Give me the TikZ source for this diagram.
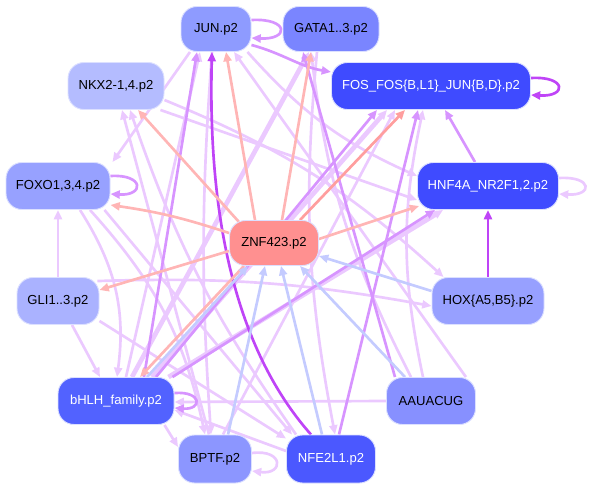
\documentclass[tikz,border=0pt]{standalone}
\usepackage{fontspec}
\setmainfont{Liberation Sans}
\usetikzlibrary{arrows.meta,calc}
\pgfdeclarelayer{bg}
\pgfsetlayers{bg,main}
\definecolor{ltc}{HTML}{EBC9FF}
\definecolor{mdc}{HTML}{D794FF}
\definecolor{stc}{HTML}{BF44F7}
\definecolor{pkc}{HTML}{FFB5B5}
\definecolor{pkd}{HTML}{FF9E9E}
\definecolor{blc}{HTML}{C4CBFF}
\definecolor{bord}{HTML}{DCE0FF}
\definecolor{cJUN}{HTML}{8E9BFF}
\definecolor{cGATA}{HTML}{7A85FF}
\definecolor{cFOS}{HTML}{3F4BFF}
\definecolor{cNKX}{HTML}{B4BCFF}
\definecolor{cFOXO}{HTML}{97A1FF}
\definecolor{cZNF}{HTML}{FF9090}
\definecolor{cGLI}{HTML}{AAB2FF}
\definecolor{cHOX}{HTML}{97A0FF}
\definecolor{cBHLH}{HTML}{5262FF}
\definecolor{cAAU}{HTML}{8790FF}
\definecolor{cBPTF}{HTML}{8C96FF}
\definecolor{cNFE}{HTML}{4B58FF}
\tikzset{
  box/.style n args={3}{draw=bord, line width=0.7pt, fill=#3, rounded corners=12pt,
    minimum width=#1*0.75pt, minimum height=#2*0.75pt, inner sep=0pt,
    font=\fontsize{9.8}{11}\selectfont},
  wt/.style={text=white},
  e/.style={line width=2pt, -{Triangle[length=7pt,width=6pt]}},
  lt/.style={e, draw=ltc},
  md/.style={e, draw=mdc},
  st/.style={e, draw=stc},
  pk/.style={e, draw=pkc},
  pkk/.style={e, draw=pkd},
  bl/.style={e, draw=blc},
}
\begin{document}
\begin{tikzpicture}[x=0.75pt,y=-0.75pt]
\useasboundingbox (0,0) rectangle (590,489);
\node[box={70}{45}{cJUN}] (JUN) at (216,29) {JUN.p2};
\node[box={96}{45}{cGATA}] (GATA) at (331,29) {GATA1..3.p2};
\node[box={199}{47}{cFOS},wt] (FOS) at (431,86) {FOS\_FOS\{B,L1\}\_JUN\{B,D\}.p2};
\node[box={96}{47}{cNKX}] (NKX) at (116,86) {NKX2-1,4.p2};
\node[box={104}{47}{cFOXO}] (FOXO) at (58,186) {FOXO1,3,4.p2};
\node[box={141}{47}{cFOS},wt] (HNF) at (488,186) {HNF4A\_NR2F1,2.p2};
\node[box={89}{45}{cZNF}] (ZNF) at (274,243) {ZNF423.p2};
\node[box={82}{47}{cGLI}] (GLI) at (58,301) {GLI1..3.p2};
\node[box={112}{47}{cHOX}] (HOX) at (488,301) {HOX\{A5,B5\}.p2};
\node[box={116}{47}{cBHLH},wt] (BHLH) at (116,401) {bHLH\_family.p2};
\node[box={89}{47}{cAAU}] (AAU) at (431,401) {AAUACUG};
\node[box={73}{48}{cBPTF}] (BPTF) at (215,459) {BPTF.p2};
\node[box={89}{48}{cNFE},wt] (NFE) at (331,459) {NFE2L1.p2};
\begin{pgfonlayer}{bg}
% light violet
\draw[lt] ($(JUN.south)+(-26,0)$) -- ($(FOXO.north east)+(2,0)$);
\draw[lt] ($(BHLH.north)+(10,0)$) -- ($(JUN.south)+(-16,0)$);
\draw[lt,line width=3.5pt] ($(BHLH.north)+(16,0)$) -- ($(GATA.south)+(-22,0)$);
\draw[lt,line width=3.5pt] ($(BHLH.north)+(36,0)$) -- ($(FOS.south)+(-44,0)$);
\draw[lt,line width=3.5pt] ($(BHLH.north east)+(-6,0)$) -- ($(HNF.south west)+(26,0)$);
\draw[lt] ($(FOXO.south)+(22,0)$) to[bend left=20] ($(BHLH.north)+(1,0)$);
\draw[lt] ($(FOXO.south)+(32,0)$) to[bend left=15] ($(BPTF.north)+(-10,0)$);
\draw[lt] ($(FOXO.south east)+(-6,0)$) -- ($(NFE.north west)+(6,0)$);
\draw[lt] (GLI.north) -- (FOXO.south);
\draw[lt] ($(GLI.south)+(14,0)$) -- ($(BHLH.north)+(-16,0)$);
\draw[lt] ($(GLI.south east)+(0,-4)$) -- ($(NFE.north west)+(0,4)$);
\draw[lt] ($(GLI.north east)+(-2,4)$) to[bend left=6] ($(HOX.west)+(0,5)$);
\draw[lt] ($(NKX.south east)+(-4,0)$) -- ($(HNF.west)+(0,14)$);
\draw[lt] ($(NKX.east)+(0,14)$) to[bend left=10] ($(HOX.north west)+(12,0)$);
\draw[lt] ($(BPTF.north)+(-6,0)$) -- ($(NKX.south)+(6,0)$);
\draw[lt] ($(NFE.north west)+(10,0)$) to[bend left=8] ($(NKX.south)+(14,0)$);
\draw[lt] ($(JUN.south east)+(-4,0)$) to[bend right=12] ($(HNF.west)+(0,-10)$);
\draw[lt] ($(BHLH.south east)+(-10,0)$) -- ($(BPTF.west)+(0,-12)$);
\draw[lt] (AAU.west) -- ($(BHLH.east)+(0,1)$);
\draw[lt] ($(NFE.west)+(0,-8)$) -- ($(BHLH.east)+(0,9)$);
\draw[lt] ($(AAU.north)+(-20,0)$) to[bend left=10] ($(GATA.south)+(-20,0)$);
\draw[lt] ($(AAU.north)+(-8,0)$) to[bend left=12] ($(FOS.south)+(-8,0)$);
\draw[lt] ($(AAU.north east)+(-10,0)$) -- ($(JUN.south)+(18,0)$);
\draw[lt] ($(JUN.south)+(-4,0)$) to[bend right=4] ($(BPTF.north)+(-4,0)$);
\draw[lt] ($(BPTF.north)+(8,0)$) -- ($(FOS.south)+(-36,0)$);
\draw[lt] ($(GATA.south)+(-14,0)$) to[bend right=8] ($(NFE.north)+(4,0)$);
\draw[lt] ($(BPTF.east)+(0,-6)$) .. controls +(32,-4) and +(32,4) .. ($(BPTF.east)+(0,12)$);
\draw[lt] ($(HNF.east)+(0,-8)$) .. controls +(34,-2) and +(34,2) .. ($(HNF.east)+(0,8)$);
% medium violet
\draw[md] ($(JUN.east)+(0,-9)$) .. controls +(38,-2) and +(38,2) .. ($(JUN.east)+(0,9)$);
\draw[md] ($(FOXO.east)+(0,-10)$) .. controls +(34,-2) and +(34,2) .. ($(FOXO.east)+(0,8)$);
\draw[md] ($(BHLH.east)+(0,-8)$) .. controls +(28,-2) and +(28,2) .. ($(BHLH.east)+(0,7)$);
\draw[md] ($(JUN.east)+(0,16)$) to[out=-15,in=170] ($(FOS.west)+(0,-14)$);
\draw[md] ($(HNF.north)+(-13,0)$) -- ($(FOS.south)+(14,0)$);
\draw[md] ($(NFE.north)+(8,0)$) -- ($(FOS.south)+(-13,0)$);
\draw[md] ($(BHLH.north)+(28,0)$) -- ($(JUN.south)+(-19,0)$);
\draw[md] ($(BHLH.north)+(40,0)$) -- ($(FOS.south)+(-54,0)$);
\draw[md] ($(BHLH.north east)+(-2,0)$) -- ($(HNF.south west)+(18,0)$);
\draw[md] ($(AAU.north)+(-36,0)$) -- ($(GATA.south)+(-28,0)$);
% strong purple
\draw[st] ($(FOS.east)+(0,-8)$) .. controls +(36,-2) and +(36,2) .. ($(FOS.east)+(0,9)$);
\draw[st] (HOX.north) -- (HNF.south);
\draw[st] ($(NFE.north)+(-20,0)$) .. controls (245,360) and (207,240) .. ($(JUN.south)+(-4,0)$);
% pink
\draw[pk] ($(ZNF.north)+(-19,0)$) -- ($(JUN.south)+(10,0)$);
\draw[pk] ($(ZNF.north)+(8,0)$) -- ($(GATA.south)+(-20,0)$);
\draw[pkk] ($(ZNF.north)+(26,0)$) -- ($(FOS.south)+(-26,0)$);
\draw[pk] ($(ZNF.north west)+(10,2)$) -- ($(NKX.south)+(22,0)$);
\draw[pk] ($(ZNF.west)+(0,-10)$) to[bend right=5] ($(FOXO.east)+(0,19)$);
\draw[pk] ($(ZNF.west)+(0,8)$) -- ($(GLI.east)+(0,-11)$);
\draw[pk] ($(ZNF.south)+(-30,0)$) -- ($(BHLH.north)+(24,0)$);
\draw[pk] ($(ZNF.east)+(0,-4)$) -- ($(HNF.south west)+(2,-4)$);
% blue
\draw[bl] ($(HOX.west)+(0,-10)$) -- ($(ZNF.east)+(0,13)$);
\draw[bl] ($(AAU.north)+(-26,0)$) -- ($(ZNF.south)+(26,0)$);
\draw[bl] ($(NFE.north)+(-9,0)$) -- ($(ZNF.south)+(7,0)$);
\draw[bl] ($(BPTF.north)+(13,0)$) -- ($(ZNF.south)+(-9,0)$);
\draw[bl] ($(BHLH.north)+(31,0)$) -- ($(ZNF.south)+(-26,0)$);
\end{pgfonlayer}
\end{tikzpicture}
\end{document}
